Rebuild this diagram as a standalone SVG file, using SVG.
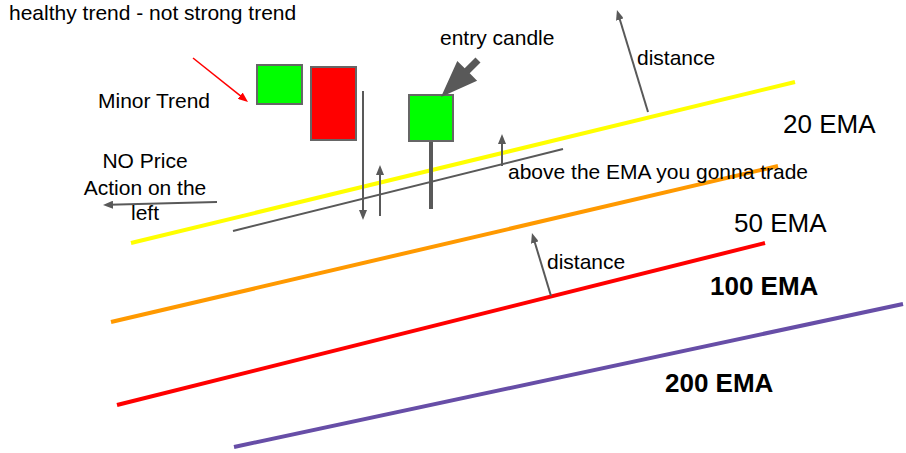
<svg xmlns="http://www.w3.org/2000/svg" width="906" height="453" viewBox="0 0 906 453">
<style>
text{font-family:"Liberation Sans",Arial,sans-serif;fill:#000;font-size:21px}
.big{font-size:26px}
.bold{font-weight:bold;font-size:26px}
.ema{fill:none;stroke-width:4;stroke-linecap:butt}
.arr{fill:none;stroke:#595959;stroke-width:2}
.candle{stroke:#666;stroke-width:2}
</style>
<defs>
<marker id="ah" viewBox="0 0 10 8" refX="4" refY="4" markerWidth="10" markerHeight="8" markerUnits="userSpaceOnUse" orient="auto">
<path d="M0,0 L10,4 L0,8 Z" fill="#595959"/>
</marker>
<marker id="ahr" viewBox="0 0 10 8" refX="4" refY="4" markerWidth="10" markerHeight="8" markerUnits="userSpaceOnUse" orient="auto">
<path d="M0,0 L10,4 L0,8 Z" fill="#ff0000"/>
</marker>
</defs>
<rect width="906" height="453" fill="#fff"/>
<g id="ema-lines">
<line class="ema" x1="131" y1="243" x2="795" y2="82" stroke="#ffff00"/>
<line class="ema" x1="111" y1="322" x2="778" y2="166" stroke="#ff9900"/>
<line class="ema" x1="117" y1="405" x2="765" y2="243" stroke="#ff0000"/>
<line class="ema" x1="234" y1="447" x2="903" y2="304" stroke="#674ea7"/>
<line x1="233" y1="231" x2="563" y2="149" stroke="#595959" stroke-width="2"/>
</g>
<g id="candle1"><rect class="candle" x="257" y="65" width="45" height="39" fill="#00ff00"/></g>
<g id="candle2"><rect class="candle" x="311" y="67" width="45" height="73" fill="#ff0000"/></g>
<g id="entry-candle">
<line x1="431" y1="141" x2="431" y2="209" stroke="#595959" stroke-width="4"/>
<rect class="candle" x="409" y="95" width="44" height="46" fill="#00ff00"/>
</g>
<g id="connectors">
<line class="arr" x1="363" y1="91" x2="363" y2="214" marker-end="url(#ah)"/>
<line class="arr" x1="380" y1="216" x2="380" y2="171" marker-end="url(#ah)"/>
<line class="arr" x1="502" y1="166" x2="502" y2="140" marker-end="url(#ah)"/>
<line class="arr" x1="648" y1="112" x2="618.7" y2="15.7" marker-end="url(#ah)"/>
<line class="arr" x1="551" y1="296" x2="533.7" y2="238.7" marker-end="url(#ah)"/>
<line class="arr" x1="217" y1="202" x2="109" y2="204.8" marker-end="url(#ah)"/>
<line x1="193" y1="58" x2="243.3" y2="98.2" stroke="#ff0000" stroke-width="1.5" marker-end="url(#ahr)"/>
<polygon points="475.5,57.5 480.5,62.5 469.7,73.3 477.1,80.7 441,97 457.3,60.9 464.7,68.3" fill="#595959"/>
</g>
<g id="labels">
<text x="9" y="20">healthy trend - not strong trend</text>
<text x="98" y="108">Minor Trend</text>
<text x="145" y="168" text-anchor="middle">NO Price</text>
<text x="145" y="195" text-anchor="middle">Action on the</text>
<text x="145" y="220" text-anchor="middle">left</text>
<text x="440" y="45">entry candle</text>
<text x="637" y="65">distance</text>
<text x="508" y="179">above the EMA you gonna trade</text>
<text x="547" y="269">distance</text>
<text class="big" x="783" y="133">20 EMA</text>
<text class="big" x="734" y="232">50 EMA</text>
<text class="bold" x="710" y="295">100 EMA</text>
<text class="bold" x="665" y="392">200 EMA</text>
</g>
</svg>
